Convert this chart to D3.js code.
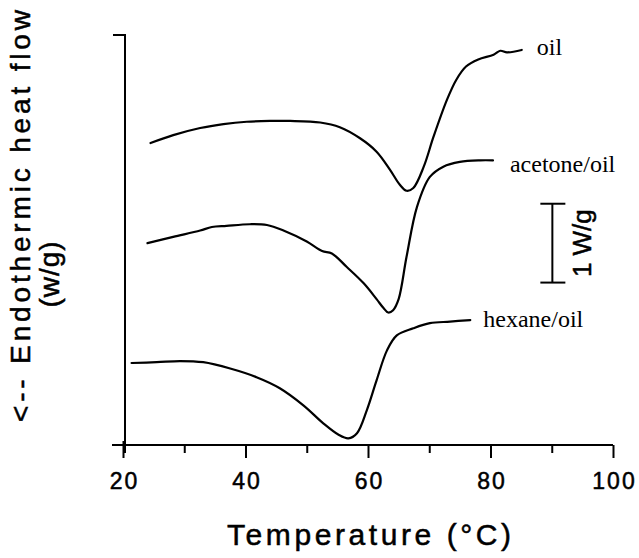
<!DOCTYPE html>
<html>
<head>
<meta charset="utf-8">
<script src="https://cdn.jsdelivr.net/npm/d3@7"></script>
<style>
  html, body { margin: 0; padding: 0; background: #fff; }
  svg { display: block; }
  .sans { font-family: 'Liberation Sans', Arial, sans-serif; stroke: #000; stroke-width: 0.5px; }
  .serif { font-family: 'Liberation Serif', 'Times New Roman', serif; }
</style>
</head>
<body>
<svg id="chart" width="639" height="558"></svg>
<script>
// DSC thermograms: heat flow (W/g, arbitrary offset) versus temperature (°C)
const seriesNames = ["oil", "acetone/oil", "hexane/oil"];

const oilTemp = [24.5, 28.2, 32.6, 36.4, 40.2, 44.0, 47.3, 52.2, 55.4, 58.7, 61.4, 63.6, 65.2, 66.3, 67.4, 69.1, 70.7, 72.9, 74.4, 76.0, 78.0, 80.5, 81.6, 82.7, 85.1];
const oilFlow = [3.83, 3.93, 4.02, 4.07, 4.10, 4.11, 4.11, 4.09, 4.03, 3.89, 3.72, 3.49, 3.30, 3.225, 3.26, 3.53, 3.91, 4.38, 4.63, 4.80, 4.89, 4.95, 5.00, 4.98, 5.01];

const acetoneTemp = [24.0, 28.2, 32.6, 34.5, 36.9, 40.7, 43.5, 46.2, 50.0, 52.5, 54.1, 56.5, 59.3, 61.4, 62.5, 63.3, 64.1, 65.0, 66.3, 68.0, 70.1, 72.3, 75.0, 78.3, 80.4];
const acetoneFlow = [2.56, 2.64, 2.72, 2.765, 2.78, 2.80, 2.79, 2.72, 2.58, 2.46, 2.43, 2.26, 2.05, 1.85, 1.74, 1.68, 1.71, 1.85, 2.39, 3.02, 3.40, 3.53, 3.59, 3.61, 3.61];

const hexaneTemp = [21.4, 25.5, 29.3, 33.1, 37.5, 41.8, 45.6, 49.5, 52.7, 55.2, 56.8, 58.2, 59.8, 61.4, 63.1, 64.7, 67.4, 70.1, 73.4, 76.7];
const hexaneFlow = [1.04, 1.05, 1.065, 1.05, 0.97, 0.86, 0.72, 0.50, 0.275, 0.13, 0.085, 0.15, 0.44, 0.82, 1.20, 1.39, 1.48, 1.545, 1.565, 1.585];

const xTicks = [20, 30, 40, 50, 60, 70, 80, 90, 100];
const xTickLabels = [20, 40, 60, 80, 100];

// 1 W/g scale bar: position (°C) and bottom value (W/g)
const scaleBarTemp = 90.1;
const scaleBarFrom = 2.06;
const scaleBarSize = 1;

const svg = d3.select("#chart");
const x = d3.scaleLinear().domain([20, 100]).range([123, 613]);
const y = d3.scaleLinear().domain([0, 5.2]).range([445, 35]);

const ink = "#000";

// Horizontal axis
const xAxis = d3.axisBottom(x)
  .tickValues(xTicks)
  .tickSize(0)
  .tickFormat("");
const gx = svg.append("g").attr("transform", `translate(0,${y(0)})`).call(xAxis);
gx.select(".domain").remove();
gx.selectAll(".tick line").remove();

svg.append("line")
  .attr("x1", 112).attr("x2", x(100))
  .attr("y1", y(0)).attr("y2", y(0))
  .attr("stroke", ink).attr("stroke-width", 2);

gx.selectAll(".tick").append("line")
  .attr("y1", d => d === 20 ? -4 : 0)
  .attr("y2", d => xTickLabels.includes(d) ? 13 : 8)
  .attr("stroke", ink).attr("stroke-width", 2);

gx.selectAll(".tick").filter(d => xTickLabels.includes(d)).append("text")
  .attr("class", "sans")
  .attr("y", 44)
  .attr("dx", 1)
  .attr("text-anchor", "middle")
  .attr("fill", ink)
  .style("font-size", "23px")
  .style("letter-spacing", "2px")
  .text(d => d);

// Vertical axis with its top tick
svg.append("line")
  .attr("x1", x(20) + 2).attr("x2", x(20) + 2)
  .attr("y1", y(5.2)).attr("y2", y(0) + 8)
  .attr("stroke", ink).attr("stroke-width", 2);
svg.append("line")
  .attr("x1", 113).attr("x2", x(20) + 3)
  .attr("y1", y(5.2)).attr("y2", y(5.2))
  .attr("stroke", ink).attr("stroke-width", 2);

// Thermogram curves
const line = d3.line()
  .x(d => x(d[0]))
  .y(d => y(d[1]))
  .curve(d3.curveCatmullRom.alpha(0.5));

const series = [
  d3.zip(oilTemp, oilFlow),
  d3.zip(acetoneTemp, acetoneFlow),
  d3.zip(hexaneTemp, hexaneFlow)
];

svg.append("g").selectAll("path")
  .data(series)
  .join("path")
  .attr("d", line)
  .attr("fill", "none")
  .attr("stroke", ink)
  .attr("stroke-width", 2.2)
  .attr("stroke-linejoin", "round")
  .attr("stroke-linecap", "round");

// Curve labels, placed just beyond each trace's last point
svg.append("g").selectAll("text")
  .data(series)
  .join("text")
  .attr("class", "serif")
  .attr("x", (d, i) => x(d[d.length - 1][0]) + [15, 17, 13][i])
  .attr("y", (d, i) => y(d[d.length - 1][1]) + [5, 12, 7][i])
  .attr("fill", ink)
  .style("font-size", "24px")
  .text((d, i) => seriesNames[i]);

// Scale bar
const sbx = x(scaleBarTemp);
const sb = svg.append("g").attr("stroke", ink).attr("stroke-width", 2);
sb.append("line").attr("x1", sbx).attr("x2", sbx)
  .attr("y1", y(scaleBarFrom)).attr("y2", y(scaleBarFrom + scaleBarSize));
sb.append("line").attr("x1", sbx - 12).attr("x2", sbx + 13)
  .attr("y1", y(scaleBarFrom + scaleBarSize)).attr("y2", y(scaleBarFrom + scaleBarSize));
sb.append("line").attr("x1", sbx - 12).attr("x2", sbx + 13)
  .attr("y1", y(scaleBarFrom)).attr("y2", y(scaleBarFrom));

const sbMid = y(scaleBarFrom + scaleBarSize / 2);
svg.append("text")
  .attr("class", "sans")
  .attr("transform", `translate(${sbx + 39},${sbMid}) rotate(-90)`)
  .attr("text-anchor", "middle")
  .attr("fill", ink)
  .style("font-size", "26px")
  .text(`${scaleBarSize} W/g`);

// Axis titles
svg.append("text")
  .attr("class", "sans")
  .attr("x", 227).attr("y", 545)
  .attr("textLength", 284)
  .attr("lengthAdjust", "spacing")
  .attr("fill", ink)
  .style("font-size", "30px")
  .text("Temperature (°C)");

svg.append("text")
  .attr("class", "sans")
  .attr("transform", "translate(30,422) rotate(-90)")
  .attr("textLength", 412)
  .attr("lengthAdjust", "spacing")
  .attr("fill", ink)
  .style("font-size", "28px")
  .text("<-- Endothermic heat flow");

svg.append("text")
  .attr("class", "sans")
  .attr("transform", "translate(59,274) rotate(-90)")
  .attr("text-anchor", "middle")
  .attr("fill", ink)
  .style("font-size", "28px")
  .style("letter-spacing", "1px")
  .text("(w/g)");
</script>
</body>
</html>
